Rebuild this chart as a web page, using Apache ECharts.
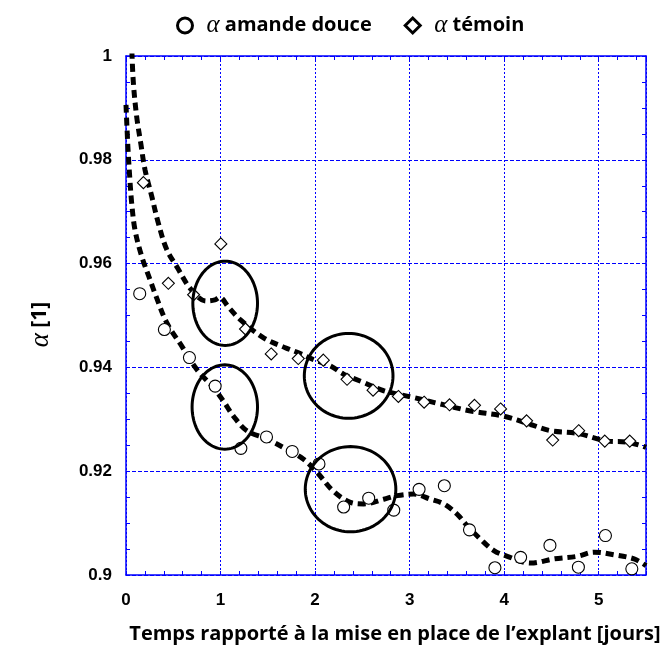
<!DOCTYPE html>
<html>
<head>
<meta charset="utf-8">
<script src="https://cdn.jsdelivr.net/npm/echarts/dist/echarts.min.js"></script>
<style>
  html, body { margin: 0; padding: 0; background: #ffffff; }
  #chart { width: 667px; height: 649px; }
</style>
</head>
<body>
<div id="chart"></div>
<script>
// Measured points: α for the sweet-almond explant and for the control
const amandeX = [0.145, 0.406, 0.671, 0.943, 1.215, 1.486, 1.758, 2.041, 2.302, 2.567,
                 2.832, 3.100, 3.367, 3.633, 3.902, 4.174, 4.484, 4.785, 5.071, 5.350];
const amandeY = [0.9542, 0.9473, 0.9419, 0.9364, 0.9244, 0.9266, 0.9238, 0.9214, 0.9131, 0.9148,
                 0.9125, 0.9165, 0.9172, 0.9087, 0.9014, 0.9034, 0.9057, 0.9015, 0.9076, 0.9012];

const temoinX = [0.184, 0.448, 0.715, 1.003, 1.264, 1.536, 1.822, 2.087, 2.338, 2.613,
                 2.881, 3.153, 3.422, 3.686, 3.962, 4.237, 4.513, 4.788, 5.064, 5.328];
const temoinY = [0.9756, 0.9562, 0.9540, 0.9638, 0.9474, 0.9426, 0.9417, 0.9414, 0.9377, 0.9356,
                 0.9344, 0.9333, 0.9328, 0.9327, 0.9320, 0.9297, 0.9260, 0.9278, 0.9258, 0.9258];

// Smoothed trend curves (dashed)
const fitAmandeX = [0, 0.02, 0.04, 0.06, 0.095, 0.166, 0.254, 0.318, 0.431, 0.59, 0.749, 0.925,
                    1.031, 1.137, 1.278, 1.49, 1.702, 1.878, 2.02, 2.196, 2.373, 2.514, 2.726,
                    2.868, 3.043, 3.22, 3.361, 3.503, 3.609, 3.75, 3.891, 4.033, 4.28, 4.527,
                    4.774, 4.95, 5.162, 5.374, 5.5];
const fitAmandeY = [0.9906, 0.9825, 0.9765, 0.9717, 0.9665, 0.9614, 0.9569, 0.9537, 0.9486, 0.9441,
                    0.9396, 0.9361, 0.9335, 0.9306, 0.9278, 0.9262, 0.9242, 0.9223, 0.9198, 0.9161,
                    0.9140, 0.9137, 0.9146, 0.9153, 0.9156, 0.9146, 0.9137, 0.9117, 0.9095, 0.9069,
                    0.9047, 0.9036, 0.9023, 0.9031, 0.9036, 0.9044, 0.9039, 0.9031, 0.9018];

const fitTemoinX = [0.062, 0.078, 0.113, 0.156, 0.201, 0.272, 0.342, 0.431, 0.544, 0.685, 0.847,
                    0.94, 0.99, 1.084, 1.208, 1.455, 1.684, 1.825, 1.984, 2.161, 2.302, 2.514,
                    2.726, 3.043, 3.291, 3.644, 3.997, 4.28, 4.492, 4.774, 5.092, 5.304, 5.5];
const fitTemoinY = [1.0010, 0.9948, 0.9883, 0.9832, 0.9781, 0.9730, 0.9678, 0.9627, 0.9592, 0.9551,
                    0.9528, 0.9530, 0.9535, 0.9516, 0.9492, 0.9457, 0.9438, 0.9428, 0.9415, 0.9403,
                    0.9387, 0.9371, 0.9355, 0.9342, 0.9331, 0.9316, 0.9306, 0.9290, 0.9278, 0.9273,
                    0.9258, 0.9256, 0.9246];

// Highlight ellipses (centre and half-axes in data units)
const ellipseCX = [1.049, 1.045, 2.355, 2.375];
const ellipseCY = [0.95235, 0.93237, 0.93837, 0.91654];
const ellipseRX = [0.342, 0.346, 0.469, 0.479];
const ellipseRY = [0.00812, 0.00813, 0.00817, 0.00821];

// Axis ranges and tick spacing
const xMin = 0, xMax = 5.5, xMinorStep = 0.2, xMajorStep = 1;
const yMin = 0.9, yMax = 1, yMinorStep = 0.005, yMajorStep = 0.02;

const seriesNames = ['α amande douce', 'α témoin'];
const xTitle = 'Temps rapporté à la mise en place de l\u2019explant [jours]';
const yTitle = '{g|α}{t| [1]}';

const zip = (xs, ys) => xs.map((x, i) => [x, ys[i]]);

const BLUE = '#0000ff';
const TICK_FONT = 'Liberation Sans';
const TITLE_FONT = 'Open Sans';
const GREEK_FONT = 'Liberation Serif';

const xLabelFmt = v => { const k = Math.round(v * 10); return k % 10 === 0 ? String(k / 10) : ''; };
const yLabelFmt = v => { const k = Math.round(v * 1000); return k % 20 === 0 ? String(k / 1000) : ''; };

const tickAxisBase = {
  axisLine: { show: true, onZero: false, lineStyle: { color: BLUE, width: 1.5 } },
  axisTick: { show: true, inside: true, length: 4, lineStyle: { color: BLUE, width: 1 } },
  splitLine: { show: false }
};

const chart = echarts.init(document.getElementById('chart'), null, { renderer: 'canvas' });

const option = {
  animation: false,
  backgroundColor: '#ffffff',
  grid: { left: 126, top: 56, width: 520, height: 520, containLabel: false },
  legend: {
    top: 8,
    left: 171,
    itemGap: 32,
    itemWidth: 15,
    itemHeight: 15,
    data: [
      { name: seriesNames[0], icon: 'circle',
        itemStyle: { color: '#ffffff', borderColor: '#000000', borderWidth: 3 } },
      { name: seriesNames[1], icon: 'diamond',
        itemStyle: { color: '#ffffff', borderColor: '#000000', borderWidth: 3 } }
    ],
    formatter: n => '{g|α}{t|' + n.slice(1) + '}',
    textStyle: {
      rich: {
        g: { fontFamily: GREEK_FONT, fontStyle: 'italic', fontSize: 25, color: '#000', padding: [0, 0, 0, 9] },
        t: { fontFamily: TITLE_FONT, fontWeight: 'bold', fontSize: 20, color: '#000' }
      }
    }
  },
  xAxis: [
    Object.assign({}, tickAxisBase, {
      type: 'value', position: 'bottom', min: xMin, max: xMax, interval: xMinorStep,
      axisLabel: { show: true, formatter: xLabelFmt, margin: 17,
        fontFamily: TICK_FONT, fontWeight: 'bold', fontSize: 17, color: '#000' },
      name: xTitle, nameLocation: 'middle', nameGap: 49,
      nameTextStyle: { fontFamily: TITLE_FONT, fontWeight: 'bold', fontSize: 20, color: '#000',
        padding: [0, 0, 0, 18] }
    }),
    Object.assign({}, tickAxisBase, {
      type: 'value', position: 'top', min: xMin, max: xMax, interval: xMinorStep,
      axisLabel: { show: false }
    }),
    {
      type: 'value', position: 'bottom', min: xMin, max: xMax, interval: xMajorStep,
      axisLine: { show: false }, axisTick: { show: false }, axisLabel: { show: false },
      splitLine: { show: true, lineStyle: { color: BLUE, width: 1, type: [2, 2] } }
    }
  ],
  yAxis: [
    Object.assign({}, tickAxisBase, {
      type: 'value', position: 'left', min: yMin, max: yMax, interval: yMinorStep,
      axisLabel: { show: true, formatter: yLabelFmt, margin: 14,
        fontFamily: TICK_FONT, fontWeight: 'bold', fontSize: 17, color: '#000' },
      name: yTitle, nameLocation: 'middle', nameGap: 72, nameRotate: 90,
      nameTextStyle: {
        padding: [0, 18, 0, 0],
        rich: {
          g: { fontFamily: GREEK_FONT, fontStyle: 'italic', fontSize: 27, color: '#000' },
          t: { fontFamily: TITLE_FONT, fontWeight: 'bold', fontSize: 21, color: '#000' }
        }
      }
    }),
    Object.assign({}, tickAxisBase, {
      type: 'value', position: 'right', min: yMin, max: yMax, interval: yMinorStep,
      axisLabel: { show: false }
    }),
    {
      type: 'value', position: 'left', min: yMin, max: yMax, interval: yMajorStep,
      axisLine: { show: false }, axisTick: { show: false }, axisLabel: { show: false },
      splitLine: { show: true, lineStyle: { color: BLUE, width: 1, type: [4, 2] } }
    }
  ],
  series: [
    {
      name: 'fit amande', type: 'line', xAxisIndex: 0, yAxisIndex: 0,
      data: zip(fitAmandeX, fitAmandeY), smooth: 0.35, showSymbol: false, symbol: 'none',
      clip: true, z: 3, silent: true,
      lineStyle: { color: '#000', width: 5, type: [8, 5], cap: 'butt' }
    },
    {
      name: 'fit témoin', type: 'line', xAxisIndex: 0, yAxisIndex: 0,
      data: zip(fitTemoinX, fitTemoinY), smooth: 0.35, showSymbol: false, symbol: 'none',
      clip: true, z: 3, silent: true,
      lineStyle: { color: '#000', width: 5, type: [8, 5], cap: 'butt' }
    },
    {
      name: seriesNames[0], type: 'scatter', xAxisIndex: 0, yAxisIndex: 0,
      data: zip(amandeX, amandeY), symbol: 'circle', symbolSize: 12, z: 4,
      itemStyle: { color: '#ffffff', borderColor: '#000', borderWidth: 1.1, opacity: 1 }
    },
    {
      name: seriesNames[1], type: 'scatter', xAxisIndex: 0, yAxisIndex: 0,
      data: zip(temoinX, temoinY), symbol: 'diamond', symbolSize: 12, z: 4,
      itemStyle: { color: '#ffffff', borderColor: '#000', borderWidth: 1.1, opacity: 1 }
    }
  ]
};

chart.setOption(option);

// Highlight ellipses, placed through the axis scales
const toPx = (x, y) => chart.convertToPixel({ xAxisIndex: 0, yAxisIndex: 0 }, [x, y]);
const ellipses = ellipseCX.map((cx, i) => {
  const c = toPx(cx, ellipseCY[i]);
  const rxPx = Math.abs(toPx(cx + ellipseRX[i], ellipseCY[i])[0] - c[0]);
  const ryPx = Math.abs(toPx(cx, ellipseCY[i] + ellipseRY[i])[1] - c[1]);
  const pts = [];
  for (let k = 0; k < 96; k++) {
    const t = (k / 96) * Math.PI * 2;
    pts.push([c[0] + rxPx * Math.cos(t), c[1] + ryPx * Math.sin(t)]);
  }
  return {
    type: 'polygon', z: 10, silent: true,
    shape: { points: pts },
    style: { fill: 'none', stroke: '#000', lineWidth: 3 }
  };
});
chart.setOption({ graphic: ellipses });
</script>
</body>
</html>
